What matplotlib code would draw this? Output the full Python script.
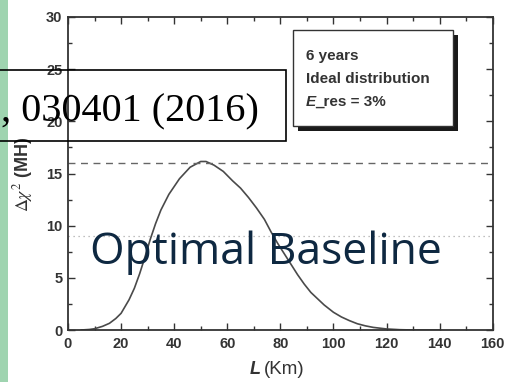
import matplotlib
matplotlib.use("Agg")
import matplotlib.pyplot as plt
from matplotlib.patches import Rectangle
from matplotlib.ticker import MultipleLocator

# values
baseline_km = [5, 8, 10, 13, 15.6, 18, 20, 23, 25, 27, 29, 31, 33, 35, 38, 42, 46, 50,
               52, 55, 58.5, 62, 65, 68, 71, 74, 76.5, 79, 81.5, 84, 86.5, 89, 91.5,
               94, 96.5, 100, 103, 106, 109, 112, 115, 120, 125, 130, 140]
delta_chi2 = [0.0, 0.05, 0.12, 0.35, 0.64, 1.1, 1.6, 2.9, 4.0, 5.4, 7.0, 8.7, 10.2, 11.5,
              13.0, 14.5, 15.6, 16.15, 16.15, 15.8, 15.2, 14.3, 13.6, 12.7, 11.7, 10.6,
              9.4, 8.3, 7.3, 6.3, 5.3, 4.4, 3.6, 3.0, 2.4, 1.7, 1.25, 0.9, 0.6, 0.4,
              0.25, 0.1, 0.03, 0.0, 0.0]
level_4sigma = 16
level_3sigma = 9
x_ticks = [0, 20, 40, 60, 80, 100, 120, 140, 160]
y_ticks = [0, 5, 10, 15, 20, 25, 30]
legend_lines = ["6 years", "Ideal distribution"]

plt.rcParams["font.family"] = ["Liberation Sans", "DejaVu Sans"]
plt.rcParams["mathtext.fontset"] = "stix"

W, H = 505, 382
fig = plt.figure(figsize=(W / 100, H / 100), dpi=100)
ax = fig.add_axes([68 / W, 1 - 330 / H, (492.7 - 68) / W, (330 - 17) / H])

ax.plot(baseline_km, delta_chi2, color="#4a4a4a", lw=1.2)
ax.axhline(level_4sigma, color="#666666", lw=1.0, ls=(0, (5, 4)))
ax.axhline(level_3sigma, color="#aaaaaa", lw=0.9, ls=(0, (1, 3)))

ax.set_xlim(0, 160)
ax.set_ylim(0, 30)
ax.set_xticks(x_ticks)
ax.set_yticks(y_ticks)
ax.xaxis.set_minor_locator(MultipleLocator(10))
ax.yaxis.set_minor_locator(MultipleLocator(2.5))
ax.tick_params(which="both", direction="in", top=True, right=True, width=1.0, color="#333333")
ax.tick_params(which="major", length=5, labelsize=10.5)
ax.tick_params(axis="y", which="major", pad=4)
ax.tick_params(axis="x", which="major", pad=5)
ax.tick_params(which="minor", length=3)
for lab in ax.get_xticklabels() + ax.get_yticklabels():
    lab.set_fontweight("bold")
    lab.set_color("#333333")
for sp in ax.spines.values():
    sp.set_linewidth(1.3)
    sp.set_color("#333333")

fig.text(23 / W, 1 - 174 / H, r"$\Delta\chi^2$ (MH)", fontsize=13, fontweight="bold",
         color="#333333", rotation=90, ha="center", va="center")
fig.text(255 / W, 1 - 370 / H, "L", fontsize=13, fontweight="bold", style="italic",
         color="#333333", ha="center", va="center")
fig.text(264 / W, 1 - 370 / H, "(Km)", fontsize=13.5, color="#333333", ha="left", va="center")

# legend box with shadow
bx0, bx1, by0, by1 = 293, 453, 30, 126
fig.add_artist(Rectangle(((bx0 + 5) / W, 1 - (by1 + 5) / H), (bx1 - bx0) / W, (by1 - by0) / H,
                         transform=fig.transFigure, facecolor="#1a1a1a", edgecolor="none", zorder=3))
fig.add_artist(Rectangle((bx0 / W, 1 - by1 / H), (bx1 - bx0) / W, (by1 - by0) / H,
                         transform=fig.transFigure, facecolor="white", edgecolor="#333333",
                         lw=1.0, zorder=4))
for i, line in enumerate(legend_lines):
    fig.text(306 / W, 1 - (56 + 23 * i) / H, line, fontsize=11, fontweight="bold",
             color="#333333", va="center", zorder=5)
fig.text(306 / W, 1 - 102 / H, "E", fontsize=11, fontweight="bold", style="italic",
         color="#333333", va="center", zorder=5)
fig.text(315 / W, 1 - 102 / H, "_res = 3%", fontsize=11, fontweight="bold",
         color="#333333", va="center", zorder=5)

# slide overlays
fig.add_artist(Rectangle((0, 0), 8 / W, 1, transform=fig.transFigure,
                         facecolor="#9fd4b0", edgecolor="none", zorder=6))
fig.add_artist(Rectangle((-10 / W, 1 - 141 / H), 296 / W, 71 / H, transform=fig.transFigure,
                         facecolor="none", edgecolor="black", lw=1.2, zorder=7))
fig.text(1 / W, 1 - 121.7 / H, ", 030401 (2016)", fontsize=29, family="Liberation Serif",
         color="black", va="baseline", zorder=8)
fig.text(90 / W, 1 - 264 / H, "Optimal Baseline", fontsize=32, family="Open Sans",
         color="#0e2841", va="baseline", zorder=8)

fig.savefig("out.png", dpi=100, facecolor="white")
